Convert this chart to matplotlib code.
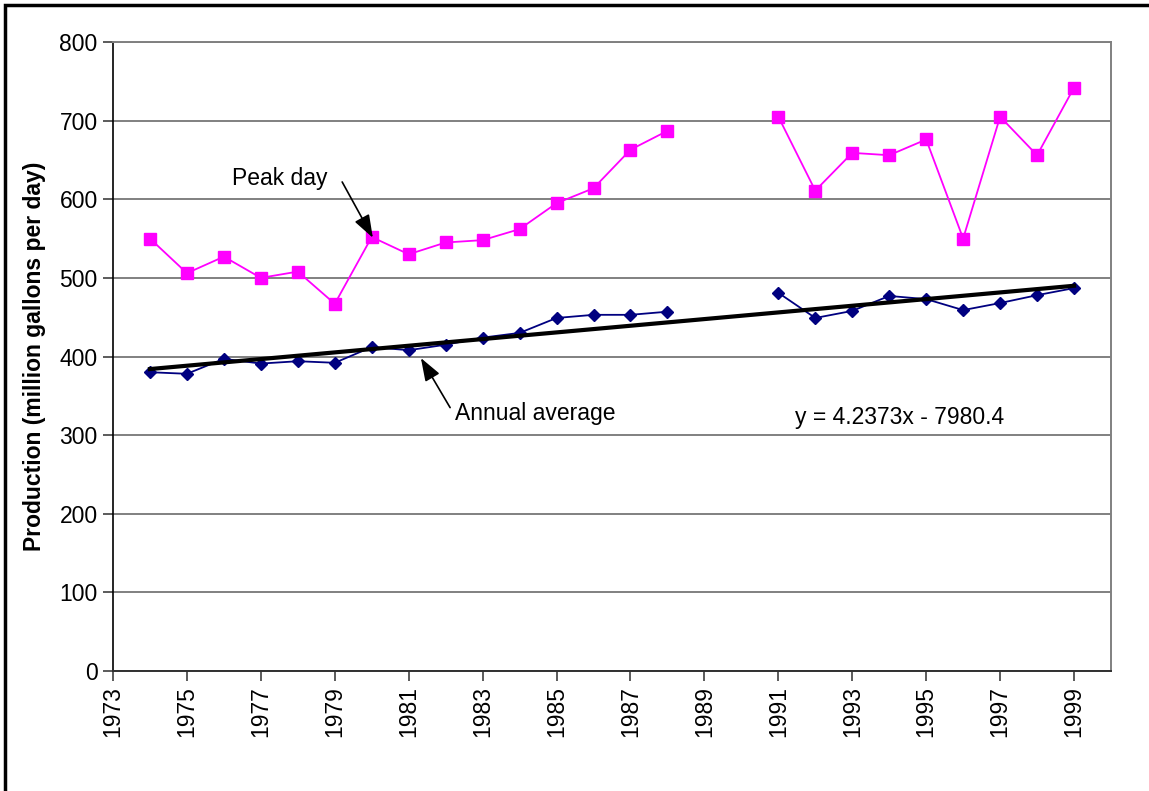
import matplotlib.pyplot as plt
from matplotlib.patches import Rectangle
import numpy as np

plt.rcParams['font.family'] = ['Liberation Sans', 'DejaVu Sans']
FONT_SIZE = 16.5

# data (no records for 1989-1990)
years = [1974, 1975, 1976, 1977, 1978, 1979, 1980, 1981, 1982, 1983, 1984,
         1985, 1986, 1987, 1988, None, 1991, 1992, 1993, 1994, 1995, 1996,
         1997, 1998, 1999]
peak_day = [550, 506, 527, 500, 508, 467, 552, 530, 545, 548, 562,
            595, 614, 663, 687, None, 705, 611, 659, 656, 676, 550,
            705, 656, 742]
annual_avg = [380, 378, 397, 391, 394, 392, 412, 408, 415, 424, 430,
              449, 453, 453, 457, None, 481, 449, 458, 477, 473, 459,
              468, 478, 487]
trend_slope = 4.2373
trend_intercept = -7980.4
x_ticks = list(range(1973, 2000, 2))
y_ticks = list(range(0, 801, 100))


def as_array(values):
    return np.array([np.nan if v is None else v for v in values], dtype=float)


x = as_array(years)
fig = plt.figure(figsize=(11.49, 7.91), dpi=100)
fig.patches.append(Rectangle((5 / 1149, -0.05), 1.2, 1 - 5 / 791 + 0.05,
                             transform=fig.transFigure, fill=False,
                             edgecolor='black', linewidth=2.5, zorder=0))
ax = fig.add_axes([113 / 1149, 1 - 671 / 791, (1111 - 113) / 1149, (671 - 42) / 791])

ax.plot(x, as_array(peak_day), color='#ff00ff', linewidth=1.3,
        marker='s', markersize=8, zorder=3)
ax.plot(x, as_array(annual_avg), color='#000080', linewidth=1.3,
        marker='D', markersize=6, zorder=3)

trend_x = np.array([years[0], years[-1]])
ax.plot(trend_x, trend_slope * trend_x + trend_intercept, color='black',
        linewidth=3, zorder=4)

ax.set_xlim(1973, 2000)
ax.set_ylim(0, 800)
ax.set_xticks(x_ticks)
ax.set_xticklabels([str(t) for t in x_ticks], rotation=90)
ax.set_yticks(y_ticks)
ax.yaxis.grid(True, color='#808080', linewidth=1.4)
ax.set_axisbelow(True)
ax.tick_params(direction='out', length=7, width=1.2, labelsize=FONT_SIZE,
               color='#404040', pad=4)

for side in ['top', 'right']:
    ax.spines[side].set_color('#808080')
    ax.spines[side].set_linewidth(1.4)
ax.spines['left'].set_color('black')
ax.spines['bottom'].set_color('#303030')
ax.spines['left'].set_linewidth(1.2)
ax.spines['bottom'].set_linewidth(1.4)

ax.set_ylabel("Production (million gallons per day)", fontsize=FONT_SIZE,
              fontweight='bold', labelpad=10)

arrow = dict(arrowstyle='-|>,head_length=1.4,head_width=0.5', color='black',
             linewidth=1.2, shrinkA=0, shrinkB=0)
ax.annotate("", xy=(1980.03, 551), xytext=(1979.2, 622), arrowprops=arrow)
ax.annotate("", xy=(1981.33, 398), xytext=(1982.12, 335), arrowprops=arrow)
ax.text(1976.22, 627, "Peak day", fontsize=FONT_SIZE, ha='left', va='center')
ax.text(1982.25, 327, "Annual average", fontsize=FONT_SIZE,
        ha='left', va='center')
ax.text(1991.45, 323, "y = 4.2373x - 7980.4", fontsize=FONT_SIZE,
        ha='left', va='center')

fig.savefig("out.png", dpi=100)
